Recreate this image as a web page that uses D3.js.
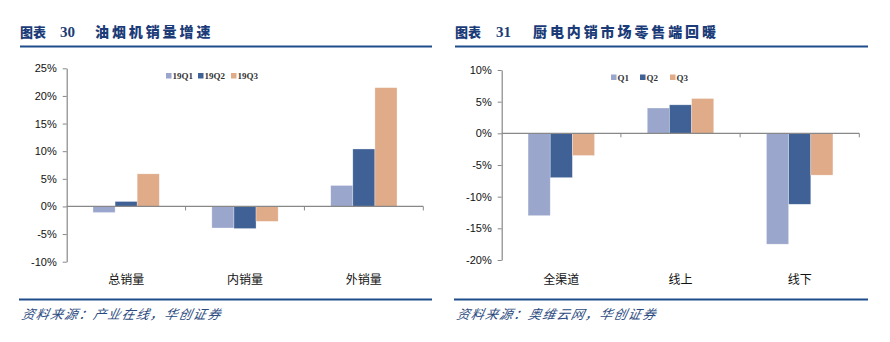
<!DOCTYPE html>
<html><head><meta charset="utf-8">
<script src="https://cdn.jsdelivr.net/npm/d3@7"></script>
<style>body{margin:0;background:#fff;}svg{display:block;}</style>
</head><body><svg id="c" width="890" height="342"></svg>
<script>
// ---- data ----
const leftCategories = ["总销量", "内销量", "外销量"];
const leftSeries = ["19Q1", "19Q2", "19Q3"];
const left19Q1 = [-1.1, -3.9, 3.8];
const left19Q2 = [0.9, -4.0, 10.4];
const left19Q3 = [5.9, -2.7, 21.5];
const leftTicks = [-10, -5, 0, 5, 10, 15, 20, 25];

const rightCategories = ["全渠道", "线上", "线下"];
const rightSeries = ["Q1", "Q2", "Q3"];
const rightQ1 = [-13.0, 4.0, -17.5];
const rightQ2 = [-7.0, 4.5, -11.2];
const rightQ3 = [-3.5, 5.5, -6.6];
const rightTicks = [-20, -15, -10, -5, 0, 5, 10];

const colors = ["#9aa6cb", "#3f6196", "#e0ab89"];
const svg = d3.select("#c");
const TITLE_COLOR = "#1b3c78";
const LINE_COLOR = "#1f4d8c";

function header(x0, x1, num, text, numX, textX, source) {
  svg.append("text").attr("x", x0).attr("y", 37).attr("fill", TITLE_COLOR)
    .attr("font-family", "'Noto Sans CJK SC'").attr("font-weight", 900)
    .attr("font-size", 13).text("图表");
  svg.append("text").attr("x", numX).attr("y", 37).attr("fill", TITLE_COLOR)
    .attr("font-family", "'Liberation Serif'").attr("font-weight", 700)
    .attr("font-size", 15).text(num);
  svg.append("text").attr("x", textX).attr("y", 37).attr("fill", TITLE_COLOR)
    .attr("font-family", "'Noto Sans CJK SC'").attr("font-weight", 900)
    .attr("font-size", 14).attr("letter-spacing", 2.9).text(text);
  svg.append("line").attr("x1", x0).attr("x2", x1).attr("y1", 46.5).attr("y2", 46.5)
    .attr("stroke", LINE_COLOR).attr("stroke-width", 2.2);
  svg.append("line").attr("x1", x0 - 1).attr("x2", x1).attr("y1", 299.5).attr("y2", 299.5)
    .attr("stroke", LINE_COLOR).attr("stroke-width", 2.2);
  svg.append("text").attr("x", x0 + 1).attr("y", 319).attr("fill", "#2b4a80")
    .attr("font-family", "'Noto Sans CJK SC'").attr("font-style", "italic")
    .attr("font-size", 13).attr("letter-spacing", 1.3)
    .attr("transform", `skewX(-12) translate(${0.2126 * 319},0)`)
    .text(source);
}

function chart(cfg) {
  const y = d3.scaleLinear().domain(cfg.domain).range(cfg.yRange);
  const x0 = d3.scaleBand().domain(cfg.cats).range(cfg.xRange).padding(0);
  const x1 = d3.scaleBand().domain(cfg.series).range([0, x0.bandwidth()])
    .paddingInner(0).paddingOuter(1.19);
  const g = svg.append("g");
  // bars
  cfg.series.forEach((s, si) => {
    g.selectAll(null).data(cfg.values[si]).enter().append("rect")
      .attr("x", (d, i) => x0(cfg.cats[i]) + x1(s))
      .attr("width", x1.bandwidth())
      .attr("y", d => y(Math.max(0, d)))
      .attr("height", d => Math.abs(y(d) - y(0)))
      .attr("fill", colors[si])
      .attr("stroke", "#fff").attr("stroke-opacity", 0.5).attr("stroke-width", 0.6);
  });
  // y axis
  const ya = d3.axisLeft(y).tickValues(cfg.ticks).tickFormat(d => d + "%")
    .tickSizeInner(4).tickSizeOuter(0).tickPadding(cfg.tickPad);
  const yg = g.append("g").attr("transform", `translate(${cfg.xRange[0]},0)`).call(ya);
  yg.select(".domain").attr("stroke", "#888").attr("stroke-width", 1.2);
  yg.selectAll(".tick line").attr("stroke", "#888").attr("stroke-width", 1);
  yg.selectAll("text").attr("font-family", "'Liberation Sans', Arial").attr("font-size", 11).attr("fill", "#111");
  // x axis at zero
  const bounds = [cfg.xRange[0]].concat(cfg.cats.map(c => x0(c) + x0.bandwidth()));
  g.append("line").attr("x1", cfg.xRange[0]).attr("x2", cfg.xRange[1])
    .attr("y1", y(0)).attr("y2", y(0)).attr("stroke", "#888").attr("stroke-width", 1.2);
  g.selectAll(null).data(bounds.slice(1)).enter().append("line")
    .attr("x1", d => d).attr("x2", d => d).attr("y1", y(0)).attr("y2", y(0) + 4)
    .attr("stroke", "#888").attr("stroke-width", 1);
  // category labels
  g.selectAll(null).data(cfg.cats).enter().append("text")
    .attr("x", d => x0(d) + x0.bandwidth() / 2).attr("y", 284)
    .attr("text-anchor", "middle").attr("font-family", "'Noto Sans CJK SC'")
    .attr("font-size", 12).attr("fill", "#111").text(d => d);
  // legend
  cfg.series.forEach((s, si) => {
    const lx = cfg.legendX[si];
    g.append("rect").attr("x", lx).attr("y", cfg.legendY - 3).attr("width", 5.5).attr("height", 5.5)
      .attr("fill", colors[si]);
    g.append("text").attr("x", lx + 6.5).attr("y", cfg.legendY + 3)
      .attr("font-family", "'Liberation Serif'").attr("font-weight", 700)
      .attr("font-size", 9).attr("fill", "#333").text(s);
  });
}

header(20, 432, "30", "油烟机销量增速", 60, 95, "资料来源：产业在线，华创证券");
header(455, 868, "31", "厨电内销市场零售端回暖", 496, 533, "资料来源：奥维云网，华创证券");

chart({
  cats: leftCategories, series: leftSeries, values: [left19Q1, left19Q2, left19Q3],
  domain: [-10, 25], yRange: [261.7, 68.3], xRange: [66.7, 423.3], ticks: leftTicks,
  tickPad: 6, legendX: [166, 198, 231], legendY: 76
});
chart({
  cats: rightCategories, series: rightSeries, values: [rightQ1, rightQ2, rightQ3],
  domain: [-20, 10], yRange: [260, 70], xRange: [501.7, 859.3], ticks: rightTicks,
  tickPad: 6, legendX: [611, 640, 670], legendY: 77.5
});
</script></body></html>
